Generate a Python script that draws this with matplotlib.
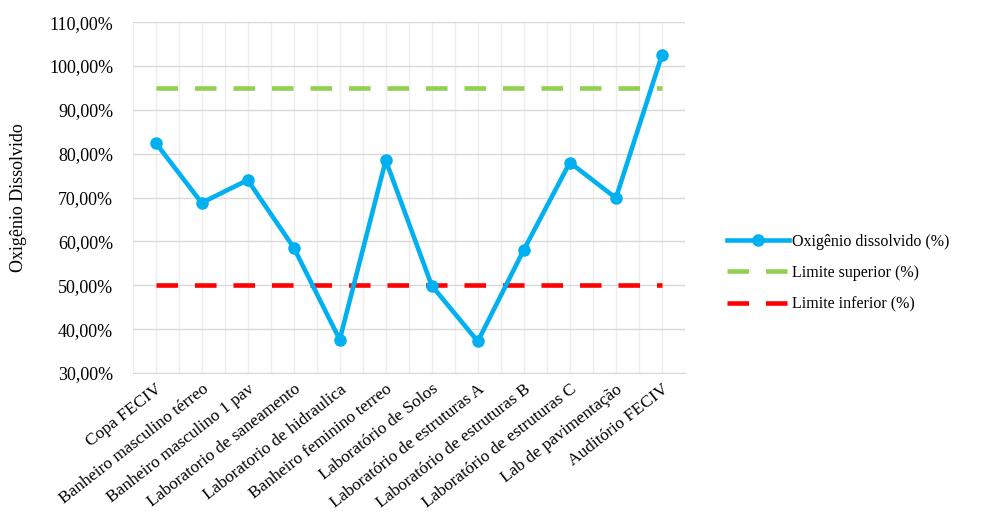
import numpy as np
import matplotlib.pyplot as plt
from matplotlib.ticker import FuncFormatter, MultipleLocator

plt.rcParams['font.family'] = ['Liberation Serif', 'DejaVu Serif']

# Dados
locais = ['Copa FECIV', 'Banheiro masculino térreo', 'Banheiro masculino 1 pav',
          'Laboratorio de saneamento', 'Laboratorio de hidraulica',
          'Banheiro feminino terreo', 'Laboratório de Solos',
          'Laboratório de estruturas A', 'Laboratório de estruturas B',
          'Laboratório de estruturas C', 'Lab de pavimentação', 'Auditório FECIV']
oxigenio = [82.5, 68.8, 74.0, 58.6, 37.6, 78.5, 49.9, 37.2, 58.1, 78.0, 69.9, 102.5]
lim_sup = [95.0] * len(locais)
lim_inf = [50.0] * len(locais)

x = np.arange(len(locais))

fig = plt.figure(figsize=(9.97, 5.29), dpi=100)
ax = fig.add_axes([0.133, 0.295, 0.554, 0.663])

ax.plot(x, oxigenio, color='#00B0F0', lw=3.3, marker='o', ms=8,
        label='Oxigênio dissolvido (%)', zorder=4)
ax.plot(x, lim_sup, color='#92D050', lw=3.3, dashes=(4.7, 3.7),
        label='Limite superior (%)', zorder=3)
ax.plot(x, lim_inf, color='#FF0000', lw=3.3, dashes=(4.7, 3.7),
        label='Limite inferior (%)', zorder=3)

ax.set_xlim(-0.5, len(locais) - 0.5)
ax.set_ylim(30, 110)
ax.yaxis.set_major_locator(MultipleLocator(10))
ax.yaxis.set_major_formatter(FuncFormatter(lambda v, p: f'{v:.2f}%'.replace('.', ',')))

# grade vertical a cada meia categoria
ax.set_xticks(x)
ax.set_xticks(np.arange(-0.5, len(locais), 1.0), minor=True)
ax.set_xticklabels(locais, rotation=38, ha='right', rotation_mode='anchor', fontsize=12.5)
ax.grid(axis='x', which='both', color='#EDEDED', lw=1)
ax.grid(axis='y', which='major', color='#D9D9D9', lw=1)
ax.set_axisbelow(True)

for s in ['top', 'right', 'left']:
    ax.spines[s].set_visible(False)
ax.spines['bottom'].set_color('#D9D9D9')
ax.tick_params(axis='y', length=0, labelsize=13, pad=14)
ax.tick_params(axis='x', which='both', length=0, pad=6)

ax.set_ylabel('Oxigênio Dissolvido', fontsize=13, labelpad=16)

ax.legend(loc='center left', bbox_to_anchor=(1.05, 0.285), frameon=False,
          fontsize=11.5, handlelength=3.9, handletextpad=0.2, labelspacing=0.95)

fig.savefig('out.png', dpi=100)
